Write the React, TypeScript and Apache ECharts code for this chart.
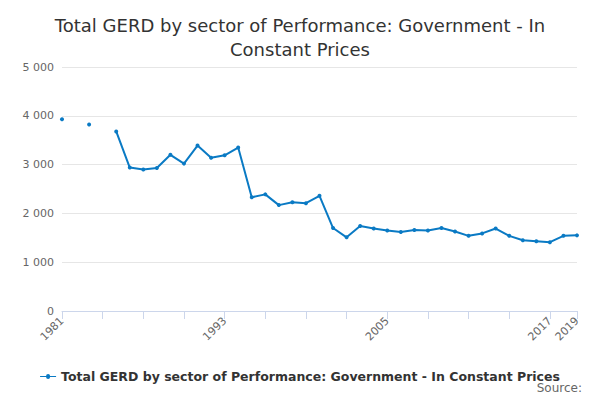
import { useEffect, useRef } from 'react'
import * as echarts from 'echarts'

const years = Array.from({ length: 39 }, (_, i) => String(1981 + i))
const shownLabels = ['1981', '1993', '2005', '2017', '2019']
const values: (number | null)[] = [
  3930, null, 3820, null, 3680, 2940, 2900, 2930, 3200, 3020,
  3390, 3140, 3190, 3350, 2330, 2390, 2170, 2230, 2210, 2360,
  1700, 1510, 1740, 1690, 1650, 1620, 1660, 1650, 1700, 1630,
  1540, 1590, 1690, 1540, 1450, 1430, 1410, 1540, 1550,
]
const seriesName = 'Total GERD by sector of Performance: Government - In Constant Prices'

export default function App() {
  const chartRef = useRef<HTMLDivElement>(null)

  useEffect(() => {
    if (!chartRef.current) return
    const chart = echarts.init(chartRef.current, undefined, { renderer: 'svg' })
    chart.setOption({
      animation: false,
      textStyle: { fontFamily: 'DejaVu Sans' },
      title: {
        text: 'Total GERD by sector of Performance: Government - In\nConstant Prices',
        left: 'center',
        top: 0,
        textStyle: { fontSize: 18, fontWeight: 'normal', color: '#333', lineHeight: 24 },
      },
      grid: { left: 54, right: 15, top: 59, bottom: 81 },
      xAxis: {
        type: 'category',
        boundaryGap: false,
        data: years,
        axisLine: { lineStyle: { color: '#ccd6eb' } },
        axisTick: { interval: (i: number) => i % 3 === 0 || i === 38, lineStyle: { color: '#ccd6eb' }, length: 8 },
        axisLabel: {
          interval: (_i: number, v: string) => shownLabels.includes(v),
          rotate: 45,
          color: '#666',
          fontSize: 11,
        },
      },
      yAxis: {
        type: 'value',
        min: 0,
        max: 5000,
        interval: 1000,
        axisLabel: { color: '#666', fontSize: 11, formatter: (v: number) => v.toLocaleString('en-US').replace(',', ' ') },
        splitLine: { lineStyle: { color: '#e6e6e6' } },
      },
      legend: {
        bottom: 4,
        left: 'center',
        data: [seriesName],
        icon: 'path://M0,4 L6,4 A2,2 0 1 1 10,4 L16,4 L16,5 L10,5 A2,2 0 1 1 6,5 L0,5 Z',
        itemWidth: 16,
        itemHeight: 6,
        textStyle: { fontSize: 12.5, fontWeight: 'bold', color: '#333' },
      },
      graphic: [{ type: 'text', right: 10, top: 374, style: { text: 'Source:', fontSize: 12, fill: '#666', fontFamily: 'DejaVu Sans' } }],
      series: [{
        name: seriesName,
        type: 'line',
        data: values,
        connectNulls: false,
        symbol: 'circle',
        symbolSize: 4,
        showAllSymbol: true,
        lineStyle: { width: 2, color: '#0a7ac4' },
        itemStyle: { color: '#0a7ac4' },
      }],
    })
    return () => chart.dispose()
  }, [])

  return <div ref={chartRef} style={{ width: 584, height: 384 }} />
}
